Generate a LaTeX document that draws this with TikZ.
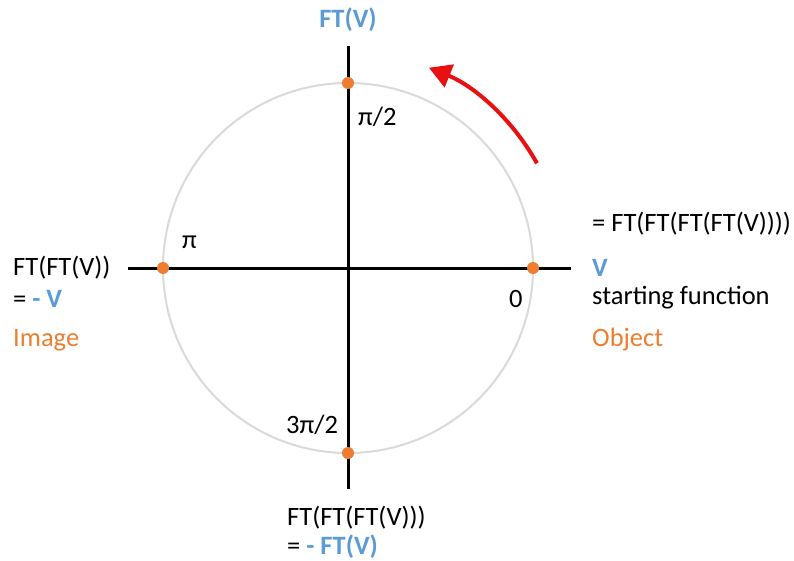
\documentclass[tikz,border=0pt]{standalone}
\usepackage{fontspec}
\setmainfont{Carlito}
\usetikzlibrary{arrows.meta,calc}
\definecolor{ftblue}{HTML}{5B9BD5}
\definecolor{ftorange}{HTML}{ED7D31}
\definecolor{ftgray}{HTML}{D9D9D9}
\definecolor{ftred}{HTML}{E81010}
\begin{document}
\begin{tikzpicture}[x=1pt,y=-1pt,
  lbl/.style={inner sep=0pt, font=\fontsize{26.5}{31}\selectfont},
  dot/.style={circle, fill=ftorange, inner sep=0pt, minimum size=12pt},
  axis/.style={line width=3pt, black},
  rim/.style={line width=2pt, ftgray},
  turn/.style={line width=4pt, ftred, -{Triangle[length=22pt,width=24pt]}}]
\useasboundingbox (0,0) rectangle (794,561);
\coordinate (O) at (348,268);
\draw[rim] (O) circle[radius=185];
\coordinate (xl) at (128,268);
\coordinate (xr) at (571,268);
\coordinate (yt) at (348,46);
\coordinate (yb) at (348,489);
\draw[axis] (xl) -- (xr);
\draw[axis] (yt) -- (yb);
\node[dot] (d0) at (533,268) {};
\node[dot] (d1) at (348,83) {};
\node[dot] (d2) at (163,268) {};
\node[dot] (d3) at (348,453) {};
\coordinate (as) at ($(O)+(-29:216)$);
\draw[turn] (as) arc[start angle=-29, end angle=-68, radius=216];
% labels
\node[lbl, text=ftblue, font=\fontsize{26.5}{31}\selectfont\bfseries] (tFTV) at (348,20) {FT(V)};
\node[lbl, anchor=west] (tpi2) at (358,117) {π/2};
\node[lbl, anchor=west] (tpi) at (182,242) {π};
\node[lbl, anchor=west] (tzero) at (509,299) {0};
\node[lbl, anchor=west] (t3pi2) at (286,425) {3π/2};
\node[lbl, anchor=west] (r1) at (592,224) {= FT(FT(FT(FT(V))))};
\node[lbl, anchor=west, text=ftblue, font=\fontsize{26.5}{31}\selectfont\bfseries] (r2) at (592,268) {V};
\node[lbl, anchor=west] (r3) at (592,298) {starting function};
\node[lbl, anchor=west, text=ftorange] (r4) at (592,340) {Object};
\node[lbl, anchor=west] (l1) at (13,268) {FT(FT(V))};
\node[lbl, anchor=west] (l2) at (13,299) {= \textcolor{ftblue}{\bfseries - V}};
\node[lbl, anchor=west, text=ftorange] (l3) at (13,340) {Image};
\node[lbl, anchor=west] (b1) at (287,518) {FT(FT(FT(V)))};
\node[lbl, anchor=west] (b2) at (287,547) {= \textcolor{ftblue}{\bfseries - FT(V)}};
\end{tikzpicture}
\end{document}
